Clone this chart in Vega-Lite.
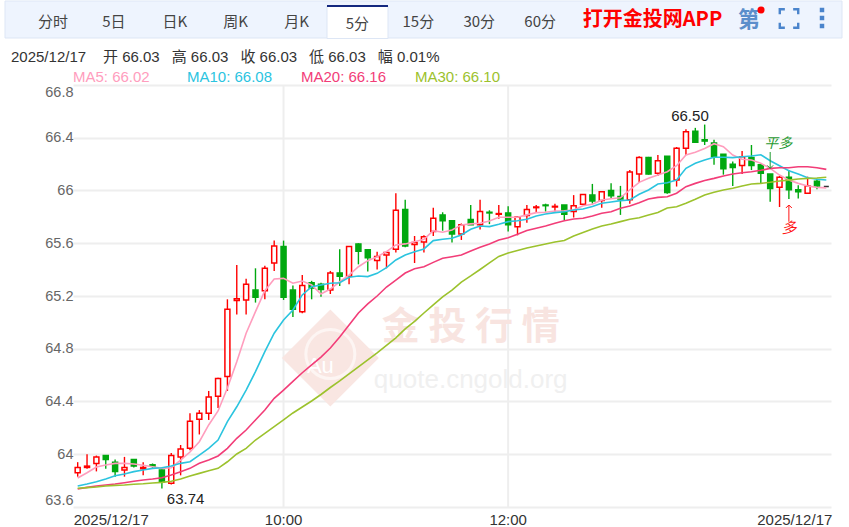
{"$schema":"https://vega.github.io/schema/vega-lite/v6.json","width":758,"height":422,"autosize":{"type":"none"},"padding":{"left":73,"top":85,"right":18,"bottom":20},"background":"#ffffff","config":{"view":{"stroke":null},"text":{"font":"Liberation Sans, Noto Sans CJK SC"},"axis":{"labelFont":"Liberation Sans"}},
"resolve":{"scale":{"x":"independent","y":"independent","color":"independent"}},
"datasets":{"one":[{}],"k":[
{"t":"08:10","o":63.86,"c":63.90,"h":63.94,"l":63.83,"m5":63.82,"m10":63.759,"m20":63.736,"m30":63.742},
{"t":"08:15","o":63.90,"c":63.91,"h":64.00,"l":63.89,"m5":63.86,"m10":63.774,"m20":63.749,"m30":63.747},
{"t":"08:20","o":63.93,"c":63.98,"h":63.99,"l":63.87,"m5":63.903,"m10":63.791,"m20":63.759,"m30":63.752},
{"t":"08:25","o":63.99,"c":63.96,"h":63.99,"l":63.89,"m5":63.918,"m10":63.812,"m20":63.767,"m30":63.759},
{"t":"08:30","o":63.94,"c":63.87,"h":63.96,"l":63.83,"m5":63.931,"m10":63.837,"m20":63.774,"m30":63.764},
{"t":"08:35","o":63.88,"c":63.90,"h":63.98,"l":63.83,"m5":63.931,"m10":63.85,"m20":63.784,"m30":63.767},
{"t":"08:40","o":63.96,"c":63.91,"h":63.96,"l":63.90,"m5":63.926,"m10":63.868,"m20":63.795,"m30":63.772},
{"t":"08:45","o":63.89,"c":63.90,"h":63.94,"l":63.84,"m5":63.916,"m10":63.88,"m20":63.805,"m30":63.776},
{"t":"08:50","o":63.92,"c":63.91,"h":63.93,"l":63.89,"m5":63.905,"m10":63.893,"m20":63.812,"m30":63.782},
{"t":"08:55","o":63.88,"c":63.79,"h":63.90,"l":63.74,"m5":63.893,"m10":63.898,"m20":63.822,"m30":63.787},
{"t":"09:00","o":63.78,"c":63.99,"h":64.01,"l":63.77,"m5":63.898,"m10":63.911,"m20":63.843,"m30":63.795},
{"t":"09:05","o":63.98,"c":64.04,"h":64.07,"l":63.84,"m5":63.956,"m10":63.931,"m20":63.868,"m30":63.812},
{"t":"09:10","o":64.045,"c":64.25,"h":64.31,"l":64.03,"m5":64.017,"m10":63.943,"m20":63.893,"m30":63.835},
{"t":"09:15","o":64.265,"c":64.31,"h":64.335,"l":64.15,"m5":64.095,"m10":63.994,"m20":63.931,"m30":63.855},
{"t":"09:20","o":64.31,"c":64.435,"h":64.48,"l":64.26,"m5":64.222,"m10":64.045,"m20":63.956,"m30":63.875},
{"t":"09:25","o":64.44,"c":64.575,"h":64.58,"l":64.35,"m5":64.328,"m10":64.108,"m20":63.987,"m30":63.893},
{"t":"09:30","o":64.59,"c":65.10,"h":65.175,"l":64.48,"m5":64.502,"m10":64.247,"m20":64.045,"m30":63.943},
{"t":"09:35","o":65.165,"c":65.18,"h":65.435,"l":65.06,"m5":64.701,"m10":64.36,"m20":64.121,"m30":64.002},
{"t":"09:40","o":65.17,"c":65.29,"h":65.33,"l":65.06,"m5":64.918,"m10":64.487,"m20":64.184,"m30":64.045},
{"t":"09:45","o":65.245,"c":65.19,"h":65.41,"l":65.15,"m5":65.081,"m10":64.626,"m20":64.26,"m30":64.108},
{"t":"09:50","o":65.24,"c":65.41,"h":65.43,"l":65.175,"m5":65.24,"m10":64.778,"m20":64.336,"m30":64.159},
{"t":"09:55","o":65.45,"c":65.58,"h":65.62,"l":65.39,"m5":65.329,"m10":64.918,"m20":64.424,"m30":64.209},
{"t":"10:00","o":65.575,"c":65.19,"h":65.62,"l":65.17,"m5":65.334,"m10":65.018,"m20":64.487,"m30":64.26},
{"t":"10:05","o":65.245,"c":65.10,"h":65.28,"l":65.04,"m5":65.297,"m10":65.094,"m20":64.552,"m30":64.313},
{"t":"10:10","o":65.08,"c":65.28,"h":65.36,"l":65.07,"m5":65.314,"m10":65.208,"m20":64.618,"m30":64.358},
{"t":"10:15","o":65.30,"c":65.26,"h":65.315,"l":65.175,"m5":65.284,"m10":65.271,"m20":64.677,"m30":64.404},
{"t":"10:20","o":65.29,"c":65.25,"h":65.30,"l":65.195,"m5":65.215,"m10":65.284,"m20":64.737,"m30":64.453},
{"t":"10:25","o":65.245,"c":65.375,"h":65.39,"l":65.215,"m5":65.253,"m10":65.297,"m20":64.806,"m30":64.506},
{"t":"10:30","o":65.375,"c":65.35,"h":65.555,"l":65.275,"m5":65.308,"m10":65.301,"m20":64.889,"m30":64.556},
{"t":"10:35","o":65.35,"c":65.575,"h":65.58,"l":65.29,"m5":65.359,"m10":65.342,"m20":64.98,"m30":64.609},
{"t":"10:40","o":65.595,"c":65.54,"h":65.60,"l":65.44,"m5":65.422,"m10":65.352,"m20":65.071,"m30":64.662},
{"t":"10:45","o":65.55,"c":65.49,"h":65.555,"l":65.385,"m5":65.468,"m10":65.347,"m20":65.14,"m30":64.715},
{"t":"10:50","o":65.47,"c":65.50,"h":65.535,"l":65.40,"m5":65.498,"m10":65.372,"m20":65.2,"m30":64.768},
{"t":"10:55","o":65.51,"c":65.53,"h":65.535,"l":65.41,"m5":65.536,"m10":65.415,"m20":65.268,"m30":64.825},
{"t":"11:00","o":65.555,"c":65.85,"h":65.98,"l":65.53,"m5":65.587,"m10":65.473,"m20":65.321,"m30":64.882},
{"t":"11:05","o":65.855,"c":65.58,"h":65.93,"l":65.57,"m5":65.595,"m10":65.511,"m20":65.374,"m30":64.95},
{"t":"11:10","o":65.59,"c":65.605,"h":65.655,"l":65.45,"m5":65.612,"m10":65.536,"m20":65.407,"m30":65.007},
{"t":"11:15","o":65.61,"c":65.65,"h":65.66,"l":65.53,"m5":65.63,"m10":65.557,"m20":65.422,"m30":65.071},
{"t":"11:20","o":65.69,"c":65.79,"h":65.87,"l":65.655,"m5":65.696,"m10":65.62,"m20":65.455,"m30":65.132},
{"t":"11:25","o":65.815,"c":65.77,"h":65.835,"l":65.695,"m5":65.684,"m10":65.63,"m20":65.486,"m30":65.193},
{"t":"11:30","o":65.77,"c":65.67,"h":65.77,"l":65.605,"m5":65.701,"m10":65.638,"m20":65.498,"m30":65.245},
{"t":"11:35","o":65.67,"c":65.74,"h":65.75,"l":65.625,"m5":65.739,"m10":65.663,"m20":65.511,"m30":65.306},
{"t":"11:40","o":65.78,"c":65.74,"h":65.89,"l":65.74,"m5":65.747,"m10":65.706,"m20":65.541,"m30":65.352},
{"t":"11:45","o":65.74,"c":65.84,"h":65.93,"l":65.705,"m5":65.752,"m10":65.731,"m20":65.569,"m30":65.401},
{"t":"11:50","o":65.835,"c":65.83,"h":65.85,"l":65.745,"m5":65.769,"m10":65.726,"m20":65.595,"m30":65.451},
{"t":"11:55","o":65.82,"c":65.825,"h":65.89,"l":65.785,"m5":65.797,"m10":65.744,"m20":65.625,"m30":65.5},
{"t":"12:00","o":65.83,"c":65.74,"h":65.88,"l":65.69,"m5":65.797,"m10":65.764,"m20":65.642,"m30":65.526},
{"t":"12:05","o":65.725,"c":65.80,"h":65.805,"l":65.66,"m5":65.797,"m10":65.771,"m20":65.668,"m30":65.545},
{"t":"12:10","o":65.81,"c":65.855,"h":65.89,"l":65.755,"m5":65.815,"m10":65.782,"m20":65.696,"m30":65.564},
{"t":"12:15","o":65.87,"c":65.875,"h":65.89,"l":65.83,"m5":65.832,"m10":65.807,"m20":65.714,"m30":65.579},
{"t":"12:20","o":65.89,"c":65.885,"h":65.90,"l":65.84,"m5":65.835,"m10":65.822,"m20":65.731,"m30":65.595},
{"t":"12:25","o":65.875,"c":65.88,"h":65.90,"l":65.84,"m5":65.845,"m10":65.832,"m20":65.752,"m30":65.61},
{"t":"12:30","o":65.89,"c":65.82,"h":65.89,"l":65.775,"m5":65.847,"m10":65.839,"m20":65.771,"m30":65.621},
{"t":"12:35","o":65.84,"c":65.885,"h":65.965,"l":65.795,"m5":65.852,"m10":65.852,"m20":65.784,"m30":65.655},
{"t":"12:40","o":65.895,"c":65.97,"h":65.97,"l":65.895,"m5":65.885,"m10":65.86,"m20":65.789,"m30":65.682},
{"t":"12:45","o":65.965,"c":65.92,"h":66.05,"l":65.90,"m5":65.895,"m10":65.879,"m20":65.807,"m30":65.708},
{"t":"12:50","o":65.925,"c":65.99,"h":65.99,"l":65.87,"m5":65.928,"m10":65.903,"m20":65.827,"m30":65.731},
{"t":"12:55","o":66.00,"c":65.96,"h":66.055,"l":65.94,"m5":65.938,"m10":65.913,"m20":65.839,"m30":65.746},
{"t":"13:00","o":65.955,"c":65.935,"h":66.035,"l":65.815,"m5":65.945,"m10":65.923,"m20":65.865,"m30":65.764},
{"t":"13:05","o":65.93,"c":66.14,"h":66.155,"l":65.90,"m5":66.004,"m10":65.928,"m20":65.882,"m30":65.782},
{"t":"13:10","o":66.125,"c":66.25,"h":66.26,"l":66.06,"m5":66.062,"m10":65.971,"m20":65.907,"m30":65.794},
{"t":"13:15","o":66.25,"c":66.125,"h":66.255,"l":66.12,"m5":66.092,"m10":66.004,"m20":65.936,"m30":65.814},
{"t":"13:20","o":66.13,"c":66.225,"h":66.27,"l":66.11,"m5":66.117,"m10":66.049,"m20":65.948,"m30":65.833},
{"t":"13:25","o":66.26,"c":65.985,"h":66.26,"l":65.975,"m5":66.142,"m10":66.059,"m20":65.953,"m30":65.867},
{"t":"13:30","o":66.08,"c":66.32,"h":66.33,"l":66.03,"m5":66.188,"m10":66.079,"m20":65.979,"m30":65.877},
{"t":"13:35","o":66.32,"c":66.445,"h":66.465,"l":66.27,"m5":66.269,"m10":66.168,"m20":66.029,"m30":65.903},
{"t":"13:40","o":66.45,"c":66.365,"h":66.475,"l":66.36,"m5":66.29,"m10":66.206,"m20":66.054,"m30":65.933},
{"t":"13:45","o":66.385,"c":66.375,"h":66.50,"l":66.345,"m5":66.319,"m10":66.231,"m20":66.076,"m30":65.966},
{"t":"13:50","o":66.36,"c":66.255,"h":66.385,"l":66.195,"m5":66.355,"m10":66.252,"m20":66.092,"m30":65.986},
{"t":"13:55","o":66.275,"c":66.165,"h":66.275,"l":66.12,"m5":66.332,"m10":66.252,"m20":66.11,"m30":66.004},
{"t":"14:00","o":66.20,"c":66.175,"h":66.22,"l":66.035,"m5":66.269,"m10":66.249,"m20":66.125,"m30":66.017},
{"t":"14:05","o":66.19,"c":66.255,"h":66.30,"l":66.125,"m5":66.237,"m10":66.256,"m20":66.135,"m30":66.034},
{"t":"14:10","o":66.25,"c":66.19,"h":66.345,"l":66.155,"m5":66.231,"m10":66.262,"m20":66.142,"m30":66.049},
{"t":"14:15","o":66.195,"c":66.13,"h":66.205,"l":66.055,"m5":66.206,"m10":66.271,"m20":66.153,"m30":66.054},
{"t":"14:20","o":66.125,"c":66.015,"h":66.125,"l":65.915,"m5":66.168,"m10":66.226,"m20":66.168,"m30":66.062},
{"t":"14:25","o":66.025,"c":66.10,"h":66.11,"l":65.875,"m5":66.117,"m10":66.188,"m20":66.173,"m30":66.072},
{"t":"14:30","o":66.10,"c":66.005,"h":66.155,"l":65.935,"m5":66.079,"m10":66.15,"m20":66.173,"m30":66.079},
{"t":"14:35","o":66.005,"c":65.99,"h":66.04,"l":65.94,"m5":66.054,"m10":66.125,"m20":66.18,"m30":66.087},
{"t":"14:40","o":65.98,"c":66.035,"h":66.105,"l":65.98,"m5":66.034,"m10":66.097,"m20":66.18,"m30":66.092},
{"t":"14:45","o":66.07,"c":66.035,"h":66.09,"l":66.01,"m5":66.024,"m10":66.085,"m20":66.173,"m30":66.095},
{"t":"14:50","o":66.03,"c":66.03,"h":66.03,"l":66.03,"m5":66.02,"m10":66.08,"m20":66.16,"m30":66.10}
]},
"layer":[
{"data":{"name":"one"},"layer":[
{"mark":{"type":"rect","fill":"#eef4fe","stroke":"#dde6f5","strokeWidth":1},"encoding":{"x":{"datum":5,"scale":{"domain":[0,849],"range":[-73,776],"nice":false,"zero":false},"axis":null},"x2":{"datum":842},"y":{"datum":1,"scale":{"domain":[0,527],"range":[-85,442],"nice":false,"zero":false},"axis":null},"y2":{"datum":38}}},
{"mark":{"type":"rect","fill":"#ffffff","stroke":"#dde6f5","strokeWidth":1},"encoding":{"x":{"datum":327,"axis":null},"x2":{"datum":388},"y":{"datum":6,"axis":null},"y2":{"datum":38.5}}},
{"mark":{"type":"rule","stroke":"#14287f","strokeWidth":2},"encoding":{"x":{"datum":327,"axis":null},"x2":{"datum":388},"y":{"datum":6,"axis":null}}},
{"mark":{"type":"text","text":"打开金投网APP","font":"Noto Sans CJK SC","fontSize":20,"fontWeight":"bold","fill":"#ff0000","align":"center","baseline":"middle"},"encoding":{"x":{"datum":652.5,"axis":null},"y":{"datum":20,"axis":null}}},
{"mark":{"type":"text","text":"第","font":"Noto Sans CJK SC","fontSize":22,"fontWeight":"bold","fill":"#5b8ecb","align":"center","baseline":"middle"},"encoding":{"x":{"datum":749,"axis":null},"y":{"datum":20,"axis":null}}},
{"mark":{"type":"point","shape":"circle","size":50,"filled":true,"fill":"#ff0000","opacity":1},"encoding":{"x":{"datum":761,"axis":null},"y":{"datum":10,"axis":null}}},
{"mark":{"type":"point","shape":"M-1,-0.45L-1,-1L-0.45,-1M0.45,-1L1,-1L1,-0.45M1,0.45L1,1L0.45,1M-0.45,1L-1,1L-1,0.45","size":340,"filled":false,"stroke":"#4a84cc","strokeWidth":2.4,"opacity":1},"encoding":{"x":{"datum":789,"axis":null},"y":{"datum":18.5,"axis":null}}},
{"mark":{"type":"point","shape":"square","size":20,"filled":true,"fill":"#4a84cc","opacity":1},"encoding":{"x":{"datum":822,"axis":null},"y":{"datum":10,"axis":null}}},
{"mark":{"type":"point","shape":"square","size":20,"filled":true,"fill":"#4a84cc","opacity":1},"encoding":{"x":{"datum":822,"axis":null},"y":{"datum":18,"axis":null}}},
{"mark":{"type":"point","shape":"square","size":20,"filled":true,"fill":"#4a84cc","opacity":1},"encoding":{"x":{"datum":822,"axis":null},"y":{"datum":26,"axis":null}}},
{"mark":{"type":"text","text":"2025/12/17","fontSize":15,"fill":"#333333","align":"left","baseline":"middle"},"encoding":{"x":{"datum":11,"axis":null},"y":{"datum":56.5,"axis":null}}}
]},
{"data":{"values":[{"tab":"分时"},{"tab":"5日"},{"tab":"日K"},{"tab":"周K"},{"tab":"月K"},{"tab":"5分"},{"tab":"15分"},{"tab":"30分"},{"tab":"60分"}]},
"encoding":{"x":{"field":"tab","type":"nominal","sort":null,"axis":null,"scale":{"type":"band","domain":["分时","5日","日K","周K","月K","5分","15分","30分","60分"],"range":[-50.5,497.6],"paddingInner":0,"paddingOuter":0}},"text":{"field":"tab"},"y":{"datum":21.5,"axis":null,"scale":{"domain":[0,527],"range":[-85,442],"nice":false,"zero":false}}},
"mark":{"type":"text","fontSize":15,"font":"Noto Sans CJK SC","fill":"#444444","align":"center","baseline":"middle","dy":{"expr":"datum.tab==='5分'?2:0"}}},
{"data":{"values":[{"label":"开 66.03"},{"label":"高 66.03"},{"label":"收 66.03"},{"label":"低 66.03"},{"label":"幅 0.01%"}]},
"encoding":{"x":{"field":"label","type":"nominal","bandPosition":0,"sort":null,"axis":null,"scale":{"type":"band","range":[30,373.5],"paddingInner":0,"paddingOuter":0}},"text":{"field":"label"},"y":{"datum":56.5,"axis":null,"scale":{"domain":[0,527],"range":[-85,442],"nice":false,"zero":false}}},
"mark":{"type":"text","fontSize":15,"fill":"#333333","align":"left","baseline":"middle"}},
{"data":{"values":[{"label":"MA5: 66.02"},{"label":"MA10: 66.08"},{"label":"MA20: 66.16"},{"label":"MA30: 66.10"}]},
"encoding":{"x":{"field":"label","type":"nominal","bandPosition":0,"sort":null,"axis":null,"scale":{"type":"band","range":[0,456],"paddingInner":0,"paddingOuter":0}},"text":{"field":"label"},"y":{"datum":76.5,"axis":null,"scale":{"domain":[0,527],"range":[-85,442],"nice":false,"zero":false}},"color":{"field":"label","type":"nominal","legend":null,"scale":{"domain":["MA5: 66.02","MA10: 66.08","MA20: 66.16","MA30: 66.10"],"range":["#ff9dbd","#2bc4df","#f23d78","#9cc22d"]}}},
"mark":{"type":"text","fontSize":15,"align":"left","baseline":"middle"}},
{"data":{"name":"k"},
"encoding":{"x":{"field":"t","type":"nominal","sort":null,"title":null,"scale":{"type":"band","paddingInner":0,"paddingOuter":0,"domain":["08:10","08:15","08:20","08:25","08:30","08:35","08:40","08:45","08:50","08:55","09:00","09:05","09:10","09:15","09:20","09:25","09:30","09:35","09:40","09:45","09:50","09:55","10:00","10:05","10:10","10:15","10:20","10:25","10:30","10:35","10:40","10:45","10:50","10:55","11:00","11:05","11:10","11:15","11:20","11:25","11:30","11:35","11:40","11:45","11:50","11:55","12:00","12:05","12:10","12:15","12:20","12:25","12:30","12:35","12:40","12:45","12:50","12:55","13:00","13:05","13:10","13:15","13:20","13:25","13:30","13:35","13:40","13:45","13:50","13:55","14:00","14:05","14:10","14:15","14:20","14:25","14:30","14:35","14:40","14:45","14:50"]},"axis":{"values":["08:10","10:00","12:00","14:50"],"labelExpr":"datum.value==='08:10'||datum.value==='14:50'?'2025/12/17':datum.value","ticks":false,"domain":false,"grid":false,"labelAngle":0,"labelFontSize":15,"labelColor":"#333333","labelPadding":5,"labelOverlap":false,"labelAlign":{"expr":"datum.value==='08:10'?'left':datum.value==='14:50'?'right':'center'"},"labelOffset":{"expr":"datum.value==='08:10'?-4:datum.value==='14:50'?6:0"}}}},
"layer":[
{"data":{"values":[{"t":"10:00"},{"t":"12:00"}]},"mark":{"type":"rule","stroke":"#eeeeee","strokeWidth":2},"encoding":{}},
{"data":{"name":"one"},"mark":{"type":"point","shape":"diamond","size":9400,"filled":true,"fill":"#f9e6e2","opacity":1},"encoding":{"x":{"datum":"10:25","type":"nominal"},"y":{"datum":64.73,"title":null}}},
{"data":{"name":"one"},"mark":{"type":"point","shape":"circle","size":2400,"filled":false,"stroke":"#fdf5f3","strokeWidth":3,"opacity":1},"encoding":{"x":{"datum":"10:25","type":"nominal"},"y":{"datum":64.76,"title":null}}},
{"data":{"name":"one"},"mark":{"type":"text","text":"Au","fontSize":22,"fill":"#ffffff","align":"center","baseline":"middle","dx":-10},"encoding":{"x":{"datum":"10:25","type":"nominal"},"y":{"datum":64.67,"title":null}}},
{"data":{"name":"one"},"mark":{"type":"text","text":"金 投 行 情","font":"Noto Sans CJK SC","fontSize":38,"fontWeight":"bold","fill":"#f8e4e0","align":"center","baseline":"middle"},"encoding":{"x":{"datum":"11:40","type":"nominal"},"y":{"datum":64.957,"title":null}}},
{"data":{"name":"one"},"mark":{"type":"text","text":"quote.cngold.org","fontSize":26,"fill":"#f0f0f0","align":"center","baseline":"middle"},"encoding":{"x":{"datum":"11:40","type":"nominal"},"y":{"datum":64.56,"title":null}}},
{"mark":{"type":"rule","strokeWidth":1.4},"encoding":{"y":{"field":"h","type":"quantitative","title":null,"scale":{"domain":[63.6,66.8],"nice":false,"zero":false},"axis":{"values":[63.6,64,64.4,64.8,65.2,65.6,66,66.4,66.8],"labelExpr":"format(datum.value,'.1~f')","ticks":false,"domain":false,"grid":true,"gridColor":"#eeeeee","gridWidth":2,"labelFontSize":14.5,"labelColor":"#666666","labelPadding":0,"labelFlush":true}},"y2":{"field":"l"},"stroke":{"condition":[{"test":"datum.c>datum.o","value":"#ff0000"},{"test":"datum.c<datum.o","value":"#00a80f"}],"value":"#333333"}}},
{"mark":{"type":"bar","size":5,"strokeWidth":1.5},"encoding":{"y":{"field":"o","type":"quantitative","title":null},"y2":{"field":"c"},"fill":{"condition":{"test":"datum.c>datum.o","value":"#ffffff"},"value":"#00a80f"},"stroke":{"condition":[{"test":"datum.c>datum.o","value":"#ff0000"},{"test":"datum.c<datum.o","value":"#00a80f"}],"value":"#333333"}}},
{"mark":{"type":"line","stroke":"#ff9dbd","strokeWidth":1.6},"encoding":{"y":{"field":"m5","type":"quantitative","title":null}}},
{"mark":{"type":"line","stroke":"#2bc4df","strokeWidth":1.6},"encoding":{"y":{"field":"m10","type":"quantitative","title":null}}},
{"mark":{"type":"line","stroke":"#f23d78","strokeWidth":1.6},"encoding":{"y":{"field":"m20","type":"quantitative","title":null}}},
{"mark":{"type":"line","stroke":"#9cc22d","strokeWidth":1.6},"encoding":{"y":{"field":"m30","type":"quantitative","title":null}}},
{"data":{"name":"one"},"mark":{"type":"text","text":"66.50","fontSize":15,"fill":"#222222","align":"center","baseline":"middle","dx":4},"encoding":{"x":{"datum":"13:35","type":"nominal"},"y":{"datum":66.565,"title":null}}},
{"data":{"name":"one"},"mark":{"type":"text","text":"63.74","fontSize":15,"fill":"#222222","align":"center","baseline":"middle","dx":5},"encoding":{"x":{"datum":"09:05","type":"nominal"},"y":{"datum":63.66,"title":null}}},
{"data":{"name":"one"},"mark":{"type":"text","text":"平多","font":"Noto Sans CJK SC","fontSize":14,"fontStyle":"italic","fill":"#1f9a30","align":"center","baseline":"middle","dx":8},"encoding":{"x":{"datum":"14:20","type":"nominal"},"y":{"datum":66.353,"title":null}}},
{"data":{"name":"one"},"mark":{"type":"rule","stroke":"#1f9a30","strokeWidth":1},"encoding":{"x":{"datum":"14:20","type":"nominal"},"y":{"datum":66.292,"title":null},"y2":{"datum":66.168}}},
{"data":{"name":"one"},"mark":{"type":"point","shape":"M-1,-1L0,0L1,-1","size":36,"filled":false,"stroke":"#1f9a30","strokeWidth":1,"opacity":1},"encoding":{"x":{"datum":"14:20","type":"nominal"},"y":{"datum":66.168,"title":null}}},
{"data":{"name":"one"},"mark":{"type":"text","text":"多","font":"Noto Sans CJK SC","fontSize":15,"fontStyle":"italic","fill":"#ff1414","align":"center","baseline":"middle"},"encoding":{"x":{"datum":"14:30","type":"nominal"},"y":{"datum":65.716,"title":null}}},
{"data":{"name":"one"},"mark":{"type":"rule","stroke":"#ff1414","strokeWidth":1},"encoding":{"x":{"datum":"14:30","type":"nominal"},"y":{"datum":65.89,"title":null},"y2":{"datum":65.763}}},
{"data":{"name":"one"},"mark":{"type":"point","shape":"M-1,1L0,0L1,1","size":36,"filled":false,"stroke":"#ff1414","strokeWidth":1,"opacity":1},"encoding":{"x":{"datum":"14:30","type":"nominal"},"y":{"datum":65.89,"title":null}}}
]}
]}
